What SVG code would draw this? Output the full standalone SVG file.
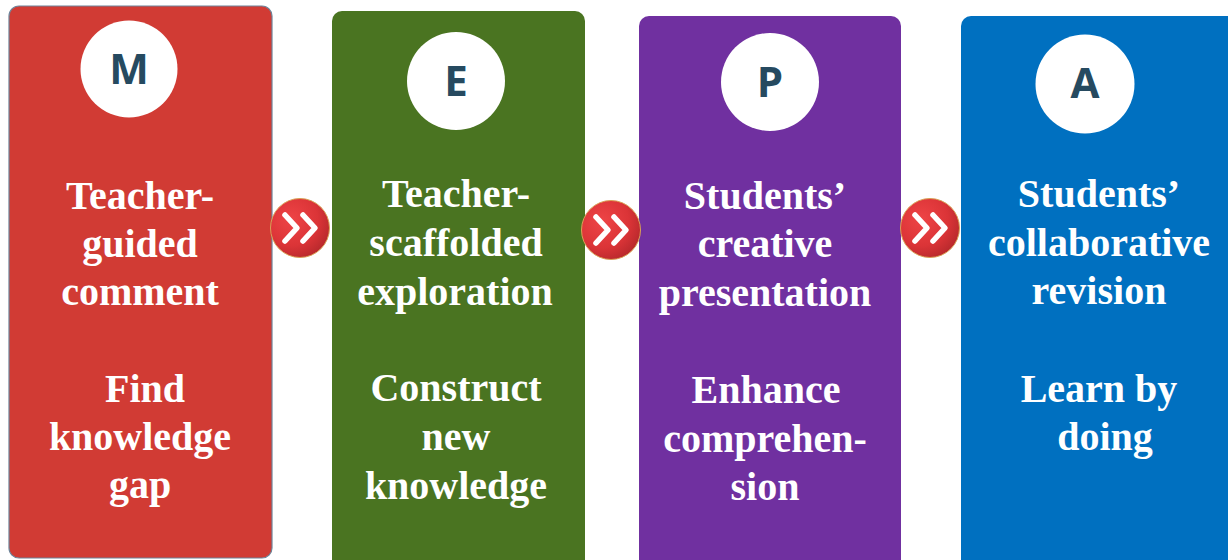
<svg xmlns="http://www.w3.org/2000/svg" width="1228" height="560" viewBox="0 0 1228 560">
<style>
.t{font-family:"Liberation Serif","Times New Roman",serif;font-weight:bold;font-size:40px;fill:#ffffff;text-anchor:middle}
.l{font-family:"Open Sans","Liberation Sans",sans-serif;font-weight:bold;font-size:42px;fill:#264A60;text-anchor:middle}
.c{fill:#ffffff}
.chev{fill:none;stroke:#ffffff;stroke-width:5.5;stroke-linecap:round;stroke-linejoin:round}
</style>
<defs>
<radialGradient id="rg" cx="0.35" cy="0.35" r="0.75">
<stop offset="0" stop-color="#EE4446"/>
<stop offset="0.6" stop-color="#DB3437"/>
<stop offset="1" stop-color="#B3272B"/>
</radialGradient>
<g id="arrow">
<circle r="29.5" fill="url(#rg)" stroke="#D9A257" stroke-width="1"/>
<polyline class="chev" points="-15,-13 -3,0 -15,13"/>
<polyline class="chev" points="3,-13 15,0 3,13"/>
</g>
</defs>
<rect width="1228" height="560" fill="#ffffff"/>
<g id="node-m">
<rect x="9" y="6" width="263" height="552" rx="10" fill="#D13B34" stroke="#6E8499" stroke-width="1.2"/>
<circle class="c" cx="129" cy="69" r="48.5"/>
<text class="l" x="129" y="84">M</text>
<text class="t" x="140" y="209">Teacher-</text>
<text class="t" x="140" y="257">guided</text>
<text class="t" x="140" y="305">comment</text>
<text class="t" x="145" y="402">Find</text>
<text class="t" x="140" y="450">knowledge</text>
<text class="t" x="140" y="498">gap</text>
</g>
<g id="node-e">
<rect x="332" y="11" width="253" height="560" rx="10" fill="#4A7421"/>
<circle class="c" cx="456" cy="81" r="49"/>
<text class="l" x="456" y="96">E</text>
<text class="t" x="456" y="207">Teacher-</text>
<text class="t" x="456" y="256">scaffolded</text>
<text class="t" x="455" y="305">exploration</text>
<text class="t" x="456" y="401">Construct</text>
<text class="t" x="456" y="450">new</text>
<text class="t" x="456" y="499">knowledge</text>
</g>
<g id="node-p">
<rect x="639" y="16" width="262" height="560" rx="10" fill="#7030A0"/>
<circle class="c" cx="770" cy="82" r="49"/>
<text class="l" x="770" y="97">P</text>
<text class="t" x="765" y="209">Students’</text>
<text class="t" x="765" y="257">creative</text>
<text class="t" x="765" y="306">presentation</text>
<text class="t" x="766" y="403">Enhance</text>
<text class="t" x="765" y="452">comprehen-</text>
<text class="t" x="765" y="500">sion</text>
</g>
<g id="node-a">
<rect x="961" y="16" width="280" height="560" rx="10" fill="#0070C0"/>
<circle class="c" cx="1085" cy="84" r="49.5"/>
<text class="l" x="1085" y="98">A</text>
<text class="t" x="1099" y="207">Students’</text>
<text class="t" x="1099" y="256">collaborative</text>
<text class="t" x="1099" y="304">revision</text>
<text class="t" x="1099" y="402">Learn by</text>
<text class="t" x="1105" y="450">doing</text>
</g>
<g id="connectors">
<use href="#arrow" x="300" y="228"/>
<use href="#arrow" x="611" y="230"/>
<use href="#arrow" x="930" y="228"/>
</g>
</svg>
